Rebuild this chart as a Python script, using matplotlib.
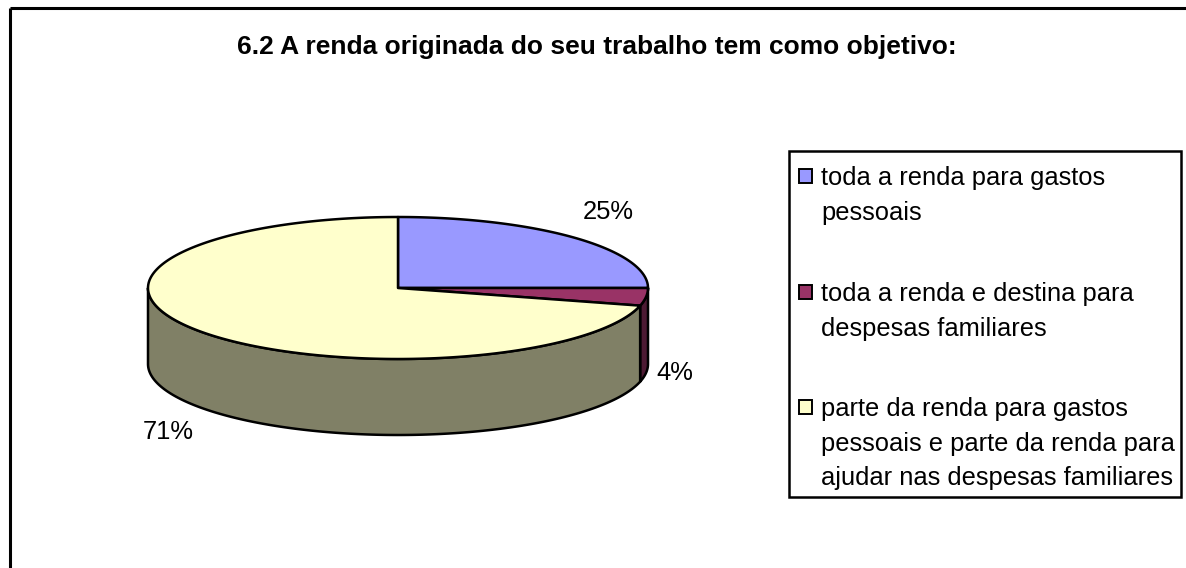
import numpy as np
import matplotlib
matplotlib.use("Agg")
import matplotlib.pyplot as plt
from matplotlib.patches import Polygon, Rectangle

# ---- data ----
title = "6.2 A renda originada do seu trabalho tem como objetivo:"
categories = [
    "toda a renda para gastos\npessoais",
    "toda a renda e destina para\ndespesas familiares",
    "parte da renda para gastos\npessoais e parte da renda para\najudar nas despesas familiares",
]
values = [25, 4, 71]
pct_labels = ["25%", "4%", "71%"]

top_colors = ["#9999FF", "#993366", "#FFFFCC"]
side_colors = ["#4D4D80", "#4D1A33", "#808066"]

W, H = 1186, 568
fig = plt.figure(figsize=(W / 100, H / 100), dpi=100)
ax = fig.add_axes([0, 0, 1, 1])
ax.set_xlim(0, W)
ax.set_ylim(H, 0)
ax.axis("off")

plt.rcParams["font.family"] = ["Liberation Sans", "DejaVu Sans"]

# chart border (top & left visible)
ax.plot([10, W + 5], [8, 8], color="black", lw=2.2, solid_capstyle="butt")
ax.plot([10, 10], [8, H + 5], color="black", lw=2.2, solid_capstyle="butt")

# title
ax.text(597, 54, title, fontsize=19, fontweight="bold", ha="center", va="baseline")

# pie geometry (pixel space)
cx, cy, a, b, depth = 398, 288, 250, 71, 76
total = float(sum(values))
fr = np.array(values) / total
ends = 90 - np.cumsum(fr) * 360
starts = np.concatenate([[90], ends[:-1]])


def arc(t1, t2, n=200, dy=0.0):
    t = np.radians(np.linspace(t1, t2, n))
    return np.column_stack([cx + a * np.cos(t), cy - b * np.sin(t) + dy])


lw = 1.8
# sides (front half: angles in (-180, 0) mod 360)
for i in range(len(values)):
    lo, hi = ends[i], starts[i]
    for off in (-720, -360, 0, 360):
        f_lo, f_hi = -180 + off, 0 + off
        s_lo, s_hi = max(lo, f_lo), min(hi, f_hi)
        if s_hi > s_lo:
            top = arc(s_hi, s_lo)
            bot = arc(s_lo, s_hi, dy=depth)
            poly = Polygon(np.vstack([top, bot]), closed=True,
                           facecolor=side_colors[i], edgecolor="black",
                           lw=lw, joinstyle="round", zorder=2)
            ax.add_patch(poly)

# tops
for i in range(len(values)):
    pts = np.vstack([[cx, cy], arc(starts[i], ends[i])])
    ax.add_patch(Polygon(pts, closed=True, facecolor=top_colors[i],
                         edgecolor="black", lw=lw, joinstyle="round", zorder=3))

# percentage labels
label_pos = [(608, 212), (675, 373), (168, 432)]
for (x, y), s in zip(label_pos, pct_labels):
    ax.text(x, y, s, fontsize=18.4, ha="center", va="center", zorder=4)

# legend (manual)
ax.add_patch(Rectangle((789, 151), 392, 346, facecolor="white",
                       edgecolor="black", lw=1.8, zorder=4))
first_baselines = [185, 301, 416]
line_gap = 34.7
for i, lab in enumerate(categories):
    base = first_baselines[i]
    ax.add_patch(Rectangle((799, base - 16), 13, 14, facecolor=top_colors[i],
                           edgecolor="black", lw=1.4, zorder=5))
    for j, line in enumerate(lab.split("\n")):
        ax.text(821, base + j * line_gap, line, fontsize=18.4,
                ha="left", va="baseline", zorder=5)

fig.savefig("out.png", dpi=100)
